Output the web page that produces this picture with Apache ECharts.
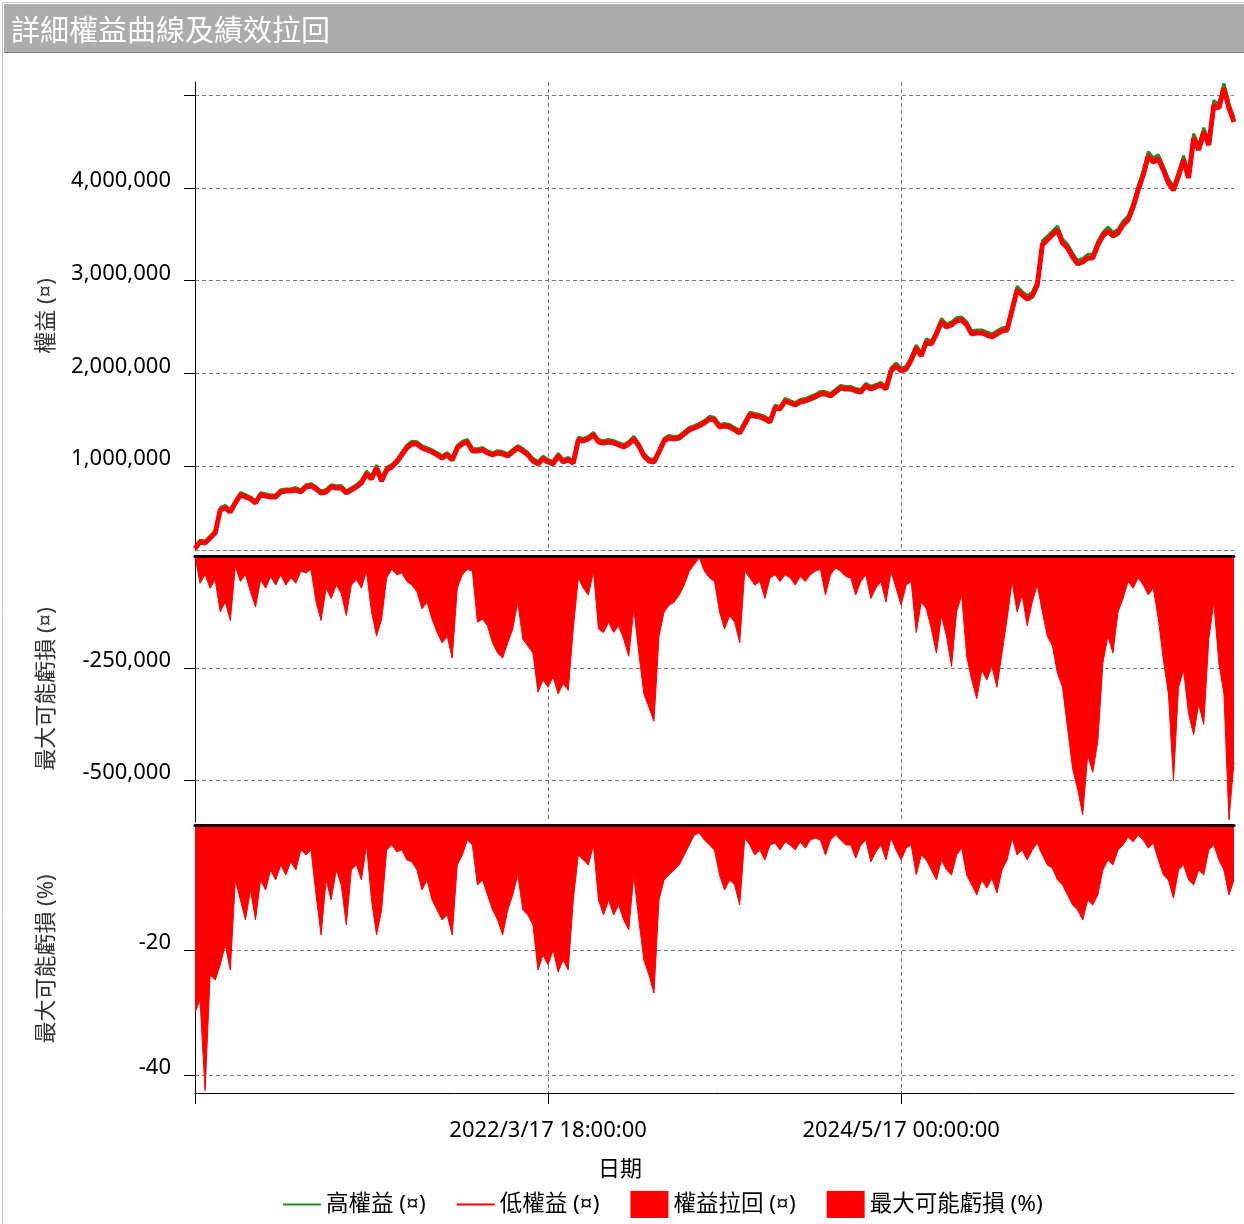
<!DOCTYPE html>
<html>
<head>
<meta charset="utf-8">
<title>詳細權益曲線及績效拉回</title>
<script src="https://cdn.jsdelivr.net/npm/echarts@6.0.0/dist/echarts.min.js"></script>
<style>
  html, body { margin: 0; padding: 0; background: #fff; }
  #main { width: 1244px; height: 1224px; }
</style>
</head>
<body>
<div id="main"></div>
<script>
// 權益曲線（高 / 低）
var highEquity = [
  125000,200000,190000,245000,300000,550000,575000,530000,625000,715000,
  690000,665000,625000,712000,700000,688000,690000,745000,752000,755000,
  768000,742000,798000,810000,775000,732000,745000,798000,786000,790000,
  732000,765000,798000,845000,945000,890000,1010000,868000,985000,1015000,
  1070000,1148000,1225000,1268000,1262000,1220000,1198000,1176000,1145000,1110000,
  1146000,1090000,1222000,1266000,1286000,1188000,1186000,1198000,1165000,1145000,
  1165000,1156000,1133000,1178000,1220000,1188000,1146000,1082000,1050000,1104000,
  1070000,1050000,1136000,1070000,1092000,1060000,1312000,1298000,1318000,1362000,
  1285000,1274000,1285000,1275000,1252000,1232000,1264000,1320000,1244000,1136000,
  1082000,1070000,1180000,1298000,1330000,1318000,1328000,1372000,1416000,1436000,
  1460000,1490000,1536000,1524000,1448000,1458000,1448000,1416000,1384000,1482000,
  1580000,1566000,1555000,1534000,1502000,1656000,1642000,1730000,1706000,1684000,
  1718000,1728000,1750000,1772000,1805000,1803000,1782000,1826000,1870000,1858000,
  1858000,1836000,1826000,1892000,1858000,1880000,1902000,1860000,2058000,2110000,
  2056000,2076000,2178000,2306000,2220000,2372000,2350000,2458000,2590000,2534000,
  2555000,2600000,2608000,2556000,2458000,2468000,2468000,2446000,2426000,2458000,
  2490000,2500000,2720000,2940000,2882000,2840000,2872000,2995000,3430000,3480000,
  3535000,3590000,3448000,3392000,3296000,3220000,3240000,3284000,3285000,3425000,
  3522000,3578000,3522000,3555000,3642000,3696000,3840000,4022000,4186000,4392000,
  4325000,4358000,4238000,4098000,4020000,4172000,4348000,4152000,4586000,4456000,
  4650000,4510000,4945000,4910000,5130000,4912000,4760000
];
var lowEquity = [
  110000,180000,169000,223000,277000,525000,547000,504000,601000,687000,
  666000,644000,601000,687000,676000,666000,666000,719000,730000,730000,
  741000,719000,773000,784000,752000,709000,719000,773000,763000,763000,
  709000,741000,773000,817000,914000,860000,978000,838000,957000,989000,
  1043000,1119000,1194000,1237000,1237000,1194000,1173000,1151000,1119000,1086000,
  1119000,1065000,1194000,1237000,1259000,1162000,1162000,1173000,1140000,1119000,
  1140000,1130000,1108000,1151000,1194000,1162000,1119000,1054000,1022000,1076000,
  1043000,1022000,1108000,1043000,1065000,1032000,1281000,1270000,1291000,1334000,
  1259000,1248000,1259000,1248000,1227000,1205000,1237000,1291000,1216000,1108000,
  1054000,1043000,1151000,1270000,1302000,1291000,1302000,1345000,1389000,1410000,
  1432000,1464000,1507000,1497000,1421000,1432000,1421000,1389000,1356000,1453000,
  1550000,1540000,1529000,1507000,1475000,1626000,1615000,1701000,1680000,1658000,
  1691000,1701000,1723000,1745000,1777000,1777000,1755000,1798000,1842000,1831000,
  1831000,1809000,1798000,1863000,1831000,1852000,1874000,1831000,2025000,2079000,
  2025000,2046000,2144000,2273000,2187000,2338000,2317000,2424000,2554000,2500000,
  2522000,2565000,2575000,2522000,2424000,2435000,2435000,2413000,2392000,2424000,
  2457000,2467000,2683000,2899000,2845000,2802000,2834000,2953000,3385000,3439000,
  3493000,3546000,3406000,3352000,3255000,3180000,3201000,3244000,3244000,3385000,
  3482000,3536000,3482000,3514000,3600000,3654000,3795000,3978000,4140000,4345000,
  4280000,4313000,4194000,4054000,3978000,4129000,4302000,4108000,4539000,4410000,
  4604000,4464000,4895000,4863000,5079000,4863000,4712000
];
// 權益拉回（金額）
var drawdownMoney = [
  0,-61000,-42000,-72000,-53000,-125000,-103000,-144000,-23000,-57000,
  -42000,-80000,-114000,-53000,-72000,-46000,-65000,-42000,-65000,-49000,
  -61000,-34000,-38000,-30000,-103000,-144000,-72000,-95000,-65000,-84000,
  -133000,-65000,-53000,-72000,-34000,-125000,-179000,-141000,-49000,-30000,
  -42000,-38000,-57000,-65000,-80000,-118000,-103000,-141000,-171000,-194000,
  -179000,-228000,-72000,-42000,-30000,-34000,-148000,-141000,-156000,-194000,
  -217000,-228000,-194000,-163000,-103000,-186000,-201000,-217000,-304000,-277000,
  -293000,-270000,-308000,-285000,-300000,-163000,-49000,-72000,-87000,-34000,
  -163000,-171000,-148000,-171000,-156000,-186000,-224000,-118000,-217000,-308000,
  -338000,-369000,-179000,-125000,-110000,-103000,-87000,-65000,-34000,-19000,
  -4000,-34000,-49000,-57000,-125000,-163000,-133000,-148000,-194000,-34000,
  -49000,-65000,-57000,-95000,-49000,-42000,-57000,-42000,-49000,-65000,
  -46000,-57000,-42000,-34000,-30000,-87000,-42000,-27000,-34000,-46000,
  -49000,-87000,-57000,-42000,-95000,-72000,-57000,-103000,-34000,-72000,
  -110000,-65000,-57000,-171000,-103000,-118000,-163000,-217000,-133000,-179000,
  -247000,-125000,-87000,-224000,-277000,-319000,-255000,-277000,-247000,-293000,
  -217000,-141000,-57000,-125000,-87000,-156000,-103000,-65000,-125000,-179000,
  -201000,-262000,-293000,-384000,-475000,-521000,-578000,-445000,-483000,-414000,
  -239000,-179000,-217000,-125000,-95000,-57000,-72000,-49000,-65000,-87000,
  -72000,-141000,-232000,-308000,-502000,-293000,-255000,-353000,-399000,-331000,
  -376000,-186000,-103000,-239000,-308000,-589000,-460000
];
// 最大可能虧損（%）
var drawdownPct = [
  -30,-28,-42.5,-24,-24.8,-22.4,-19.2,-23.2,-8.8,-12,
  -15.2,-10.4,-15.2,-8.8,-10.4,-7.2,-8.8,-6.4,-8,-5.9,
  -7.2,-4,-4.8,-4,-11.2,-17.6,-8.8,-12,-7.2,-9.6,
  -16,-7.2,-6.4,-8.8,-3.2,-12,-17.6,-13.6,-4,-3.2,
  -4.3,-4,-5.6,-5.9,-7.2,-10.4,-8.8,-12,-13.6,-15.2,
  -14.4,-17.6,-6.4,-4.8,-2.4,-3.2,-9.6,-8.8,-11.2,-13.6,
  -15.2,-17.6,-13.6,-11.2,-8,-13.6,-14.4,-16,-23.2,-20.8,
  -22.4,-20,-23.5,-21.6,-23.2,-12,-4.8,-5.6,-6.4,-3.2,
  -12,-14.4,-12,-14.4,-12.8,-15.2,-16.8,-8,-15.2,-21.6,
  -24,-26.9,-12,-8.8,-8,-7.2,-6.4,-4.8,-3.2,-1.6,
  -1.3,-2.4,-3.2,-4,-8,-10.4,-8.8,-9.6,-12.8,-2.1,
  -3.2,-4.8,-4,-5.6,-3.2,-2.9,-4,-2.7,-3.2,-4,
  -2.7,-3.7,-2.4,-2.1,-2.4,-4.8,-2.4,-1.6,-2.4,-3.2,
  -3.2,-5.3,-3.2,-2.4,-5.9,-4.3,-3.2,-5.6,-2.1,-4,
  -5.6,-3.7,-3.2,-8,-4.8,-5.6,-7.2,-8.8,-5.6,-7.2,
  -8,-4.8,-3.7,-8,-9.6,-11.2,-8.8,-10.1,-8.5,-10.9,
  -7.2,-5.6,-2.1,-4.8,-4,-5.6,-4,-2.9,-4.8,-6.4,
  -6.9,-8.8,-9.6,-11.2,-12.8,-13.6,-15.2,-12,-12.8,-11.2,
  -7.2,-5.6,-6.4,-4,-3.2,-1.9,-2.7,-1.6,-2.4,-3.7,
  -2.9,-5.6,-8,-8.8,-11.7,-7.2,-6.4,-8.8,-9.6,-7.2,
  -8,-4,-3.2,-5.6,-7.2,-11.2,-8.8
];

// 刻度
var equityTicks = [1000000, 2000000, 3000000, 4000000, 5000000];
var equityLabels = [1000000, 2000000, 3000000, 4000000];
var moneyTicks = [-500000, -250000];
var pctTicks = [-40, -20];
var dateTickIndex = [0, 70, 140];
var dateLabelIndex = [70, 140];

// 日期類別：每點間隔 791.25 / 70 天
var startTime = Date.UTC(2020, 0, 16, 12, 0, 0);
var stepMs = 791.25 * 86400000 / 70;
function pad(n) { return n < 10 ? '0' + n : '' + n; }
function fmtDate(t) {
    var d = new Date(t);
    return d.getUTCFullYear() + '/' + (d.getUTCMonth() + 1) + '/' + d.getUTCDate() + ' ' +
        pad(d.getUTCHours()) + ':' + pad(d.getUTCMinutes()) + ':' + pad(d.getUTCSeconds());
}
var dates = lowEquity.map(function (v, i) {
    return fmtDate(startTime + Math.round(i * stepMs / 60000) * 60000);
});

var isDateTick = function (i) { return dateTickIndex.indexOf(i) >= 0; };
var isDateLabel = function (i) { return dateLabelIndex.indexOf(i) >= 0; };
var dash = { color: '#7a7a7a', width: 1, type: [4, 3] };
var fontFamily = "'Noto Sans', 'Noto Sans CJK TC', sans-serif";
var linePath = 'path://M0,0H40V2H0Z';

function splitX(gridIndex, extra) {
    var ax = {
        gridIndex: gridIndex,
        type: 'category',
        data: dates,
        boundaryGap: false,
        position: 'bottom',
        axisLine: { show: false, onZero: false },
        axisTick: { show: false },
        axisLabel: { show: false },
        splitLine: { show: true, interval: isDateTick, lineStyle: dash }
    };
    return Object.assign(ax, extra || {});
}
function thickTopX(gridIndex) {
    return {
        gridIndex: gridIndex,
        type: 'category',
        data: dates,
        boundaryGap: false,
        position: 'top',
        z: 5,
        axisLine: { show: true, onZero: false, lineStyle: { color: '#000', width: 3 } },
        axisTick: { show: false },
        axisLabel: { show: false },
        splitLine: { show: false }
    };
}
function valueY(gridIndex, min, max, ticks, labels, name) {
    return {
        gridIndex: gridIndex,
        type: 'value',
        min: min,
        max: max,
        axisLine: { show: true, onZero: false, lineStyle: { color: '#000', width: 1 } },
        axisTick: { show: true, length: 11, customValues: ticks, lineStyle: { color: '#000' } },
        axisLabel: {
            customValues: labels, fontSize: 22, color: '#000', margin: 24,
            verticalAlign: 'bottom', lineHeight: 14
        },
        splitLine: { show: true, lineStyle: dash },
        name: name,
        nameLocation: 'middle',
        nameGap: 137,
        nameTextStyle: { fontSize: 22, color: '#333' }
    };
}

var chart = echarts.init(document.getElementById('main'), null, { renderer: 'canvas' });

var option = {
    animation: false,
    backgroundColor: '#fff',
    textStyle: { fontFamily: fontFamily },
    title: {
        text: '詳細權益曲線及績效拉回',
        left: 11,
        top: 15,
        padding: 0,
        textStyle: { color: '#fff', fontSize: 29, fontWeight: 'normal', fontFamily: 'Noto Sans CJK TC' }
    },
    graphic: [
        { type: 'rect', shape: { x: 2.5, y: 2.5, width: 1260, height: 1240 }, style: { fill: null, stroke: '#c6c6c6', lineWidth: 1 }, z: -1 },
        { type: 'rect', shape: { x: 4, y: 4, width: 1240, height: 48 }, style: { fill: '#acacac' }, z: -1 },
        { type: 'line', shape: { x1: 4, y1: 52.5, x2: 1244, y2: 52.5 }, style: { stroke: '#7d7d7d', lineWidth: 1 }, z: -1 }
    ],
    legend: {
        left: 278,
        top: 1186,
        itemWidth: 38,
        itemHeight: 27,
        itemGap: 31,
        selectedMode: false,
        textStyle: { fontSize: 22.5, color: '#000' },
        data: [
            { name: '高權益 (¤)', icon: linePath },
            { name: '低權益 (¤)', icon: linePath },
            { name: '權益拉回 (¤)', icon: 'rect' },
            { name: '最大可能虧損 (%)', icon: 'rect' }
        ]
    },
    grid: [
        { left: 195, top: 82, width: 1039, height: 468 },
        { left: 195, top: 556, width: 1039, height: 266 },
        { left: 195, top: 825, width: 1039, height: 268 }
    ],
    xAxis: [
        splitX(0, { axisLine: { show: true, onZero: false, lineStyle: dash } }),
        splitX(1),
        thickTopX(1),
        splitX(2, {
            axisLine: { show: true, onZero: false, lineStyle: { color: '#000', width: 1 } },
            axisTick: { show: true, interval: isDateTick, length: 11, lineStyle: { color: '#000' } },
            axisLabel: { show: true, interval: isDateLabel, fontSize: 22, color: '#000', margin: 27 },
            name: '日期',
            nameLocation: 'middle',
            nameGap: 66,
            nameTextStyle: { fontSize: 22, color: '#000', padding: [0, 189, 0, 0] }
        }),
        thickTopX(2)
    ],
    yAxis: [
        valueY(0, 93500, 5143800, equityTicks, equityLabels, '權益 (¤)'),
        valueY(1, -594000, 0, moneyTicks, moneyTicks, '最大可能虧損 (¤)'),
        valueY(2, -42.88, 0, pctTicks, pctTicks, '最大可能虧損 (%)')
    ],
    series: [
        {
            name: '高權益 (¤)', type: 'line', xAxisIndex: 0, yAxisIndex: 0,
            data: highEquity, symbol: 'none', color: '#2a8a2a',
            lineStyle: { width: 3 }, z: 2
        },
        {
            name: '低權益 (¤)', type: 'line', xAxisIndex: 0, yAxisIndex: 0,
            data: lowEquity, symbol: 'none', color: '#ff0000',
            lineStyle: { width: 5 }, z: 3
        },
        {
            name: '權益拉回 (¤)', type: 'line', xAxisIndex: 1, yAxisIndex: 1,
            data: drawdownMoney, symbol: 'none', color: '#ff0000',
            lineStyle: { width: 1 }, areaStyle: { color: '#ff0000', opacity: 1 }
        },
        {
            name: '最大可能虧損 (%)', type: 'line', xAxisIndex: 3, yAxisIndex: 2,
            data: drawdownPct, symbol: 'none', color: '#ff0000',
            lineStyle: { width: 1 }, areaStyle: { color: '#ff0000', opacity: 1 }
        }
    ]
};

chart.setOption(option);
</script>
</body>
</html>
